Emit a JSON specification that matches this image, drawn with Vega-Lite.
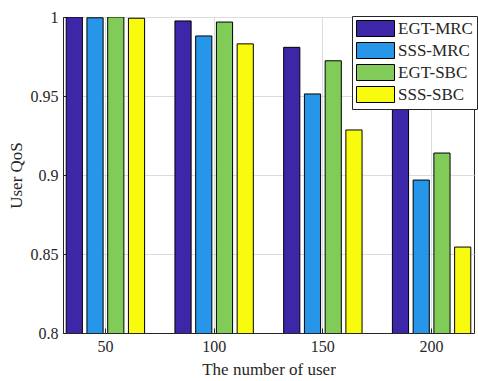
{
  "$schema": "https://vega.github.io/schema/vega-lite/v6.json",
  "width": 411,
  "height": 316,
  "autosize": {"type": "none"},
  "padding": {"left": 63, "top": 17, "right": 4, "bottom": 48},
  "background": "white",
  "config": {
    "font": "Liberation Serif",
    "view": {"stroke": "#262626", "strokeWidth": 1},
    "axis": {
      "labelFont": "Liberation Serif",
      "titleFont": "Liberation Serif",
      "labelFontSize": 16,
      "titleFontSize": 17,
      "labelColor": "#262626",
      "titleColor": "#262626",
      "titleFontWeight": "normal",
      "domainColor": "#262626",
      "tickColor": "#262626",
      "gridColor": "#dcdcdc",
      "gridWidth": 1
    }
  },
  "data": {
    "values": [
      {"users": "50", "method": "EGT-MRC", "qos": 1.0},
      {"users": "50", "method": "SSS-MRC", "qos": 0.9995},
      {"users": "50", "method": "EGT-SBC", "qos": 1.0},
      {"users": "50", "method": "SSS-SBC", "qos": 0.9992},
      {"users": "100", "method": "EGT-MRC", "qos": 0.9975},
      {"users": "100", "method": "SSS-MRC", "qos": 0.988},
      {"users": "100", "method": "EGT-SBC", "qos": 0.9968},
      {"users": "100", "method": "SSS-SBC", "qos": 0.983},
      {"users": "150", "method": "EGT-MRC", "qos": 0.9808},
      {"users": "150", "method": "SSS-MRC", "qos": 0.9513},
      {"users": "150", "method": "EGT-SBC", "qos": 0.9723},
      {"users": "150", "method": "SSS-SBC", "qos": 0.9285},
      {"users": "200", "method": "EGT-MRC", "qos": 0.9418},
      {"users": "200", "method": "SSS-MRC", "qos": 0.8968},
      {"users": "200", "method": "EGT-SBC", "qos": 0.9139},
      {"users": "200", "method": "SSS-SBC", "qos": 0.8544}
    ]
  },
  "mark": {"type": "bar", "stroke": "black", "strokeWidth": 1, "clip": true},
  "encoding": {
    "x": {
      "field": "users",
      "type": "ordinal",
      "sort": ["50", "100", "150", "200"],
      "scale": {"paddingInner": 0.26, "paddingOuter": 0.02},
      "axis": {
        "title": "The number of user",
        "labelAngle": 0,
        "grid": true,
        "bandPosition": 0.5,
        "tickSize": -5,
        "labelPadding": 10,
        "titlePadding": 7
      }
    },
    "xOffset": {
      "field": "method",
      "type": "nominal",
      "sort": ["EGT-MRC", "SSS-MRC", "EGT-SBC", "SSS-SBC"],
      "scale": {"paddingInner": 0.22, "paddingOuter": 0.05}
    },
    "y": {
      "field": "qos",
      "type": "quantitative",
      "scale": {"domain": [0.8, 1], "zero": false},
      "axis": {
        "title": "User QoS",
        "values": [0.8, 0.85, 0.9, 0.95, 1],
        "labelExpr": "datum.value == 1 ? '1' : datum.value == 0.8 ? '0.8' : datum.value == 0.9 ? '0.9' : format(datum.value, '.2f')",
        "grid": true,
        "tickSize": -5,
        "labelPadding": 10,
        "titlePadding": 5
      }
    },
    "color": {
      "field": "method",
      "type": "nominal",
      "sort": ["EGT-MRC", "SSS-MRC", "EGT-SBC", "SSS-SBC"],
      "scale": {
        "domain": ["EGT-MRC", "SSS-MRC", "EGT-SBC", "SSS-SBC"],
        "range": ["#3e26a8", "#2896e8", "#81cc59", "#f9fb0e"]
      },
      "legend": {
        "title": null,
        "orient": "none",
        "legendX": 289,
        "legendY": -1,
        "symbolType": "M-2.375,-1H2.375V1H-2.375Z",
        "symbolSize": 256,
        "symbolOffset": 11,
        "symbolStrokeColor": "black",
        "symbolStrokeWidth": 1,
        "symbolOpacity": 1,
        "labelFont": "Liberation Serif",
        "labelFontSize": 17,
        "labelColor": "#262626",
        "rowPadding": 1,
        "labelOffset": 14,
        "padding": 4,
        "strokeColor": "#262626",
        "fillColor": "white"
      }
    }
  }
}
